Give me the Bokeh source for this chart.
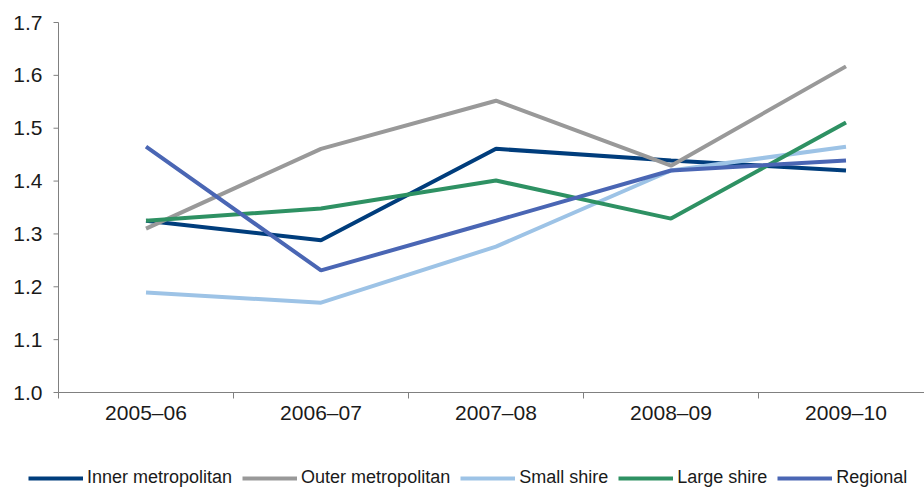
from bokeh.plotting import figure
from bokeh.models import Range1d, Legend, LegendItem
from bokeh.core.properties import value
from bokeh.embed import file_html
from bokeh.resources import INLINE

# Financial years along the x axis
years = ["2005–06", "2006–07", "2007–08", "2008–09", "2009–10"]

# Ratio values per council category
inner_metro = [1.325, 1.288, 1.461, 1.439, 1.420]
outer_metro = [1.310, 1.461, 1.552, 1.429, 1.617]
small_shire = [1.189, 1.170, 1.276, 1.420, 1.465]
large_shire = [1.325, 1.348, 1.401, 1.329, 1.511]
regional = [1.465, 1.231, 1.325, 1.420, 1.439]

series = [
    ("Inner metropolitan", inner_metro, "#003d7c"),
    ("Outer metropolitan", outer_metro, "#999999"),
    ("Small shire", small_shire, "#9dc3e6"),
    ("Large shire", large_shire, "#2e9163"),
    ("Regional", regional, "#4a66b4"),
]

y_ticks = [1.0, 1.1, 1.2, 1.3, 1.4, 1.5, 1.6, 1.7]
y_labels = [f"{t:.1f}" for t in y_ticks]

xs = list(range(len(years)))
boundaries = [-0.5, 0.5, 1.5, 2.5, 3.5]

# Page geometry: the plotting frame fills the whole canvas so that the
# legend underneath the axis is not clipped; axes are drawn as glyphs.
W, H = 924, 492
px_x = 175.0            # pixels per category
px_y = 370.0 / 0.7      # pixels per unit of ratio
y_min, y_max = 1.0, 1.7
x0 = -0.5 - 58 / px_x
y0 = y_min - 100 / px_y

p = figure(frame_width=W, frame_height=H, output_backend="svg",
           toolbar_location=None,
           x_range=Range1d(x0, x0 + W / px_x), y_range=Range1d(y0, y0 + H / px_y),
           x_axis_location=None, y_axis_location=None,
           min_border=0)
p.outline_line_color = None
p.grid.visible = False
p.background_fill_color = "white"
p.border_fill_color = "white"

font = value("Liberation Sans")
axis_color = "#808080"
text_color = "#1a1a1a"

# y axis: line, outward ticks and labels
p.segment(x0=[-0.5], y0=[y_min], x1=[-0.5], y1=[y_max],
          line_color=axis_color, line_width=1)
p.segment(x0=[-0.5] * len(y_ticks), y0=y_ticks,
          x1=[-0.5 - 5 / px_x] * len(y_ticks), y1=y_ticks,
          line_color=axis_color, line_width=1)
p.text(x=[-0.5] * len(y_ticks), y=y_ticks, text=y_labels, x_offset=-16,
       text_align="right", text_baseline="middle", text_font=font,
       text_font_size="21px", text_color=text_color)

# x axis: line, ticks at category boundaries, labels at category centres
p.segment(x0=[-0.5], y0=[y_min], x1=[x0 + W / px_x], y1=[y_min],
          line_color=axis_color, line_width=1)
p.segment(x0=boundaries, y0=[y_min] * len(boundaries),
          x1=boundaries, y1=[y_min - 6 / px_y] * len(boundaries),
          line_color=axis_color, line_width=1)
p.text(x=xs, y=[y_min] * len(xs), text=years, y_offset=20,
       text_align="center", text_baseline="middle", text_font=font,
       text_font_size="21px", text_color=text_color)

items = []
for name, vals, color in series:
    r = p.line(xs, vals, line_color=color, line_width=4)
    items.append(LegendItem(label=name, renderers=[r]))

legend = Legend(items=items, orientation="horizontal", location=(28, 4),
                glyph_width=55, glyph_height=10, label_standoff=4, spacing=10,
                padding=0, margin=0, border_line_color=None,
                background_fill_alpha=0,
                label_text_font="Liberation Sans", label_height=20,
                label_text_font_size="18px", label_text_color=text_color)
p.add_layout(legend, "center")

open("out.html", "w").write(file_html(p, INLINE))
